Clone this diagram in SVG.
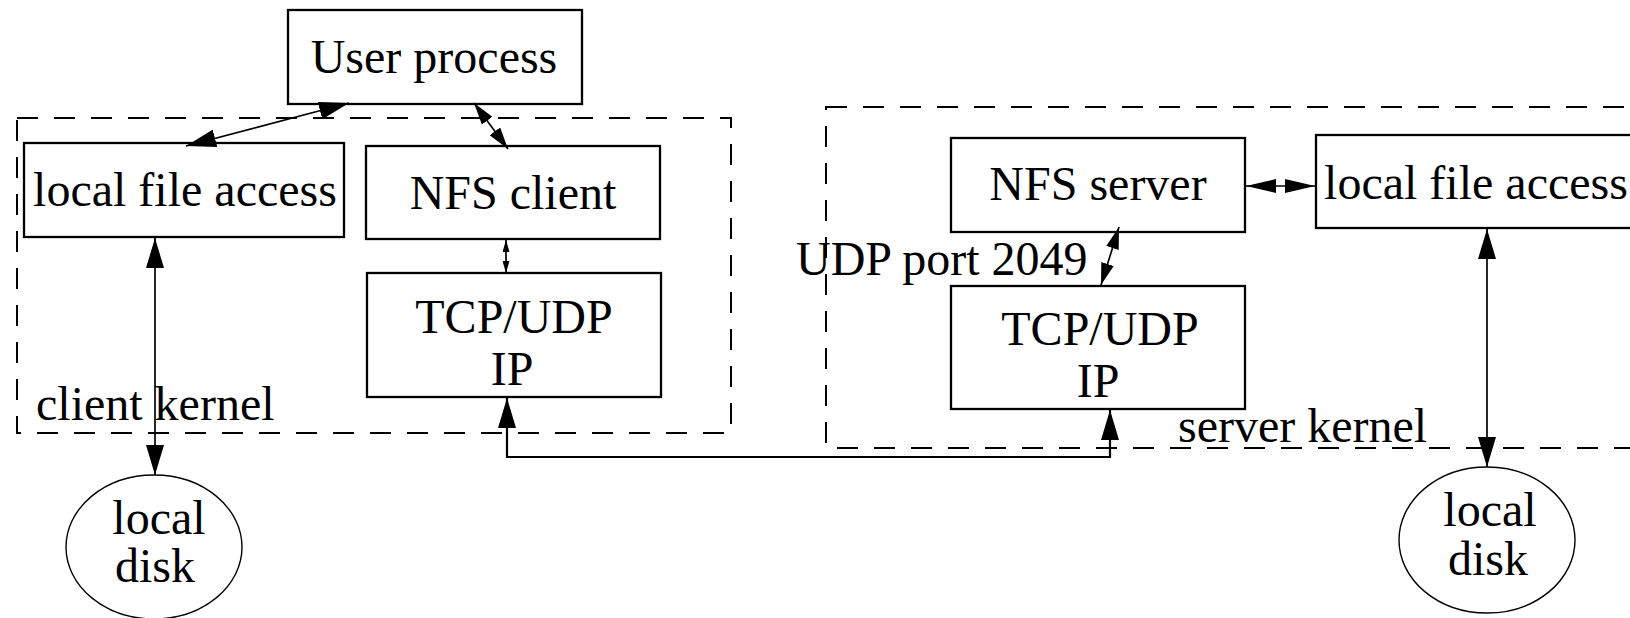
<svg xmlns="http://www.w3.org/2000/svg" width="1630" height="618" viewBox="0 0 1630 618">
<style>
.box{fill:none;stroke:#000;stroke-width:2.3}
.dash{fill:none;stroke:#000;stroke-width:2;stroke-dasharray:21 16}
.ell{fill:none;stroke:#000;stroke-width:1.4}
.ln{fill:none;stroke:#000;stroke-width:1.7}
.lw{fill:none;stroke:#000;stroke-width:2.2}
.t{font-family:"Liberation Serif","Times New Roman",serif;font-size:48px;fill:#000}
.c{text-anchor:middle}
</style>
<defs>
<marker id="aBig" markerUnits="userSpaceOnUse" markerWidth="30" markerHeight="18" refX="30" refY="9" orient="auto-start-reverse"><path d="M0,0 L30,9 L0,18 z" fill="#000"/></marker>
<marker id="aMed" markerUnits="userSpaceOnUse" markerWidth="22" markerHeight="13" refX="22" refY="6.5" orient="auto-start-reverse"><path d="M0,0 L22,6.5 L0,13 z" fill="#000"/></marker>
<marker id="aSm" markerUnits="userSpaceOnUse" markerWidth="12" markerHeight="7" refX="12" refY="3.5" orient="auto-start-reverse"><path d="M0,0 L12,3.5 L0,7 z" fill="#000"/></marker>
<marker id="aH" markerUnits="userSpaceOnUse" markerWidth="30" markerHeight="14" refX="30" refY="7" orient="auto-start-reverse"><path d="M0,0 L30,7 L0,14 z" fill="#000"/></marker>
</defs>

<g id="client-kernel">
<rect class="dash" x="17" y="118" width="714" height="315"/>
<text class="t" x="36" y="420">client kernel</text>
</g>
<g id="server-kernel">
<rect class="dash" x="826" y="107" width="900" height="341"/>
<text class="t" x="1178" y="442">server kernel</text>
</g>

<g id="user-process">
<rect class="box" x="288" y="10" width="294" height="94"/>
<text class="t c" x="434" y="73">User process</text>
</g>
<g id="client-local-file-access">
<rect class="box" x="24" y="143" width="320" height="94"/>
<text class="t c" x="185" y="206">local file access</text>
</g>
<g id="nfs-client">
<rect class="box" x="366" y="146" width="294" height="93"/>
<text class="t c" x="513" y="209">NFS client</text>
</g>
<g id="client-tcpudp">
<rect class="box" x="367" y="273" width="294" height="124"/>
<text class="t c" x="514" y="333">TCP/UDP</text>
<text class="t c" x="512" y="385">IP</text>
</g>
<g id="client-disk">
<ellipse class="ell" cx="154" cy="547" rx="88" ry="72"/>
<text class="t c" x="159" y="534">local</text>
<text class="t c" x="155" y="582">disk</text>
</g>

<g id="nfs-server">
<rect class="box" x="951" y="138" width="294" height="94"/>
<text class="t c" x="1098" y="200">NFS server</text>
</g>
<g id="server-local-file-access">
<rect class="box" x="1316" y="135" width="340" height="93"/>
<text class="t c" x="1476" y="199">local file access</text>
</g>
<g id="server-tcpudp">
<rect class="box" x="951" y="286" width="294" height="123"/>
<text class="t c" x="1100" y="345">TCP/UDP</text>
<text class="t c" x="1098" y="397">IP</text>
</g>
<g id="server-disk">
<ellipse class="ell" cx="1487" cy="540" rx="88" ry="73"/>
<text class="t c" x="1490" y="526">local</text>
<text class="t c" x="1488" y="575">disk</text>
</g>
<g id="udp-port-label">
<text class="t" x="796" y="275">UDP port 2049</text>
</g>

<g id="connectors">
<line class="ln" x1="349" y1="103" x2="186" y2="146" marker-start="url(#aBig)" marker-end="url(#aBig)"/>
<line class="ln" x1="474" y1="103" x2="508" y2="149" marker-start="url(#aMed)" marker-end="url(#aMed)"/>
<line class="ln" x1="506" y1="240" x2="506" y2="273" marker-start="url(#aSm)" marker-end="url(#aSm)"/>
<line class="ln" x1="155" y1="238" x2="155" y2="475" marker-start="url(#aBig)" marker-end="url(#aBig)"/>
<path class="lw" d="M507,398 V457 H1110 V410" marker-start="url(#aBig)" marker-end="url(#aBig)"/>
<line class="ln" x1="1246" y1="186" x2="1315" y2="186" marker-start="url(#aH)" marker-end="url(#aH)"/>
<line class="ln" x1="1119" y1="227" x2="1101" y2="285" marker-start="url(#aMed)" marker-end="url(#aMed)"/>
<line class="ln" x1="1487" y1="229" x2="1487" y2="467" marker-start="url(#aBig)" marker-end="url(#aBig)"/>
</g>
</svg>
